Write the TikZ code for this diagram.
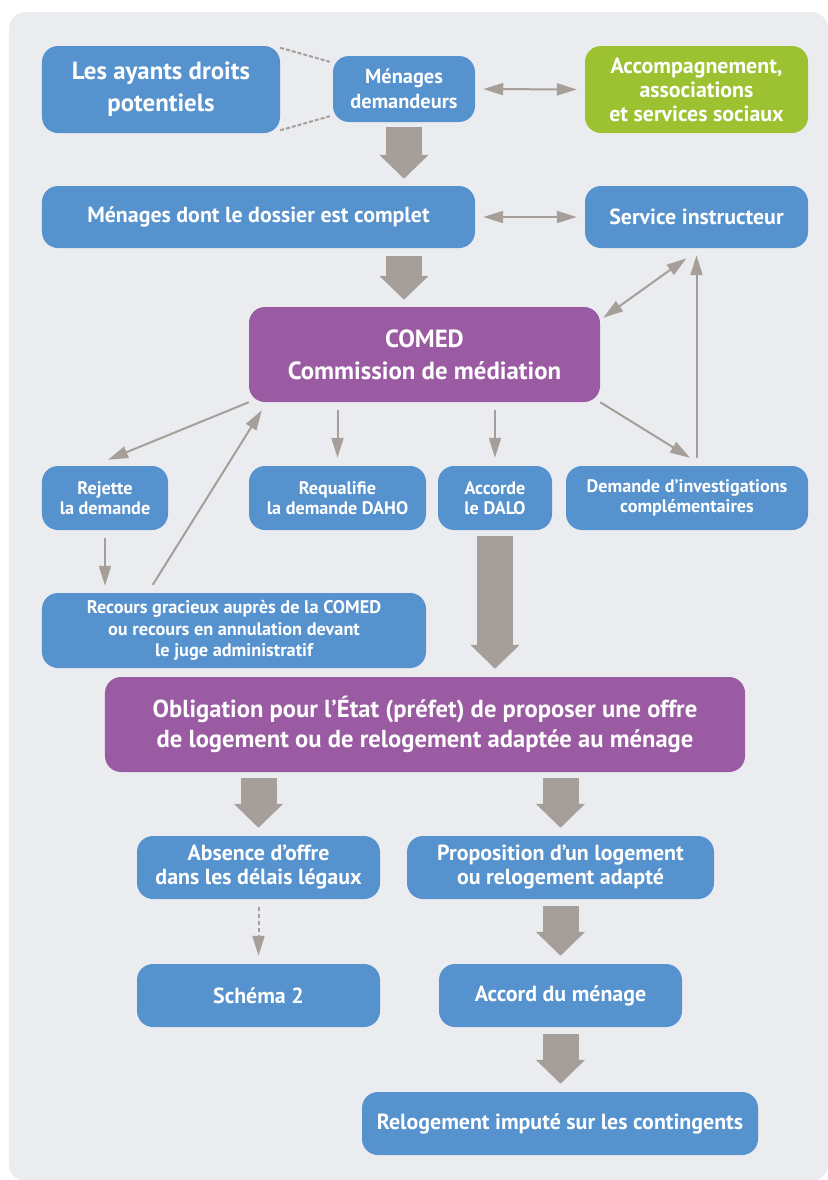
\documentclass[tikz,border=0pt]{standalone}
\usepackage{fontspec}
\setmainfont{PT Sans}
\usepackage{tikz}
\usetikzlibrary{arrows.meta,positioning,calc}

\definecolor{boxblue}{HTML}{5592CE}
\definecolor{boxpurple}{HTML}{9A5BA3}
\definecolor{boxgreen}{HTML}{9CC231}
\definecolor{arrowgray}{HTML}{A69E98}
\definecolor{bggray}{HTML}{EBECF0}

\newcommand{\txtxl}{\bfseries\fontsize{21.2}{27.5}\selectfont}
\newcommand{\txtl}{\bfseries\fontsize{21}{25.6}\selectfont}
\newcommand{\txtm}{\bfseries\fontsize{18.7}{20.5}\selectfont}
\newcommand{\txtsm}{\bfseries\fontsize{17.4}{21}\selectfont}
\newcommand{\txts}{\bfseries\fontsize{15.5}{17}\selectfont}
\newcommand{\txtr}{\bfseries\fontsize{15.6}{18.5}\selectfont}

\begin{document}
\begin{tikzpicture}[x=0.3mm, y=-0.3mm,
    box/.style={rounded corners=4.8mm, fill=boxblue, text=white, align=center, inner sep=0pt},
    bigbox/.style={box, fill=boxpurple},
    greenbox/.style={box, fill=boxgreen},
    link/.style={draw=arrowgray, line width=0.6mm, -{Triangle[length=6mm, width=3.6mm]}},
    twolink/.style={link, {Triangle[length=6mm, width=3.6mm]}-{Triangle[length=6mm, width=3.6mm]}},
    fat/.style={draw=arrowgray, line width=10.8mm, -{Triangle[length=7.2mm, width=14.4mm]}},
    dotline/.style={draw=arrowgray, line width=0.6mm, dash pattern=on 1.2mm off 0.6mm}
]
    \useasboundingbox (0,0) rectangle (828,1180);
    \fill[bggray, rounded corners=5mm] (9,12) rectangle (828,1181);

    % first rows
    \node[box, minimum width=71.4mm, minimum height=26.1mm, font=\txtxl] (ayants) at (161,89.5) {Les ayants droits\\potentiels};
    \node[box, minimum width=42.6mm, minimum height=19.8mm, font=\txtsm] (demandeurs) at (404,89) {Ménages\\demandeurs};
    \node[greenbox, minimum width=66.9mm, minimum height=26.1mm, font=\txtm] (accomp) at (696.5,89.5) {Accompagnement,\\associations\\et services sociaux};
    \node[box, minimum width=129.9mm, minimum height=18.6mm, font=\txtm] (complet) at (258.5,217) {Ménages dont le dossier est complet};
    \node[box, minimum width=66.9mm, minimum height=18.6mm, font=\txtm] (service) at (696.5,217) {Service instructeur};

    \node[bigbox, minimum width=105.3mm, minimum height=28.5mm, font=\txtxl] (comed) at (424.5,354.5) {COMED\\Commission de médiation};

    % decisions
    \node[box, minimum width=37.8mm, minimum height=19.2mm, font=\txts] (rejette) at (105,498) {Rejette\\la demande};
    \node[box, minimum width=53.1mm, minimum height=19.2mm, font=\txts] (requalifie) at (337.5,498) {Requalifie\\la demande DAHO};
    \node[box, minimum width=34.2mm, minimum height=19.2mm, font=\txts] (accorde) at (495,498) {Accorde\\le DALO};
    \node[box, minimum width=72.6mm, minimum height=19.2mm, font=\txts] (investig) at (687,498) {Demande d’investigations\\complémentaires};
    \node[box, minimum width=115.2mm, minimum height=22.5mm, font=\txtr] (recours) at (234,630.5) {Recours gracieux auprès de la COMED\\ou recours en annulation devant\\le juge administratif};

    \node[bigbox, minimum width=192mm, minimum height=28.5mm, font=\txtl] (obligation) at (425,724.5) {Obligation pour l’État (préfet) de proposer une offre\\de logement ou de relogement adaptée au ménage};

    % bottom
    \node[box, minimum width=72.9mm, minimum height=18.9mm, font=\txtm] (absence) at (258.5,867.5) {Absence d’offre\\dans les délais légaux};
    \node[box, minimum width=92.1mm, minimum height=18.9mm, font=\txtm] (proposition) at (560.5,867.5) {Proposition d’un logement\\ou relogement adapté};
    \node[box, minimum width=72.9mm, minimum height=18.9mm, font=\txtm] (schema) at (258.5,995.5) {Schéma 2};
    \node[box, minimum width=72.9mm, minimum height=18.9mm, font=\txtm] (accord) at (560.5,995.5) {Accord du ménage};
    \node[box, minimum width=118.8mm, minimum height=18.9mm, font=\txtm] (relogement) at (560,1123.5) {Relogement imputé sur les contingents};

    % dashed links
    \draw[dotline] ($(ayants.north east)+(0,2)$) -- ($(demandeurs.north west)+(-3,6)$);
    \draw[dotline] ($(ayants.south east)+(0,-3)$) -- ($(demandeurs.south west)+(-3,-6)$);

    % thin arrows
    \draw[twolink, shorten <=2.4mm, shorten >=2.4mm] (demandeurs.east) -- (accomp.west);
    \draw[twolink, shorten <=2.4mm, shorten >=2.4mm] (complet.east) -- (service.west);
    \draw[twolink] ($(comed.north east)+(3,11)$) -- ($(service.south)+(-10,10)$);
    \draw[link, shorten <=2.4mm, shorten >=2.1mm] (investig.north -| service.south) -- (service.south);
    \draw[link] (comed.south east) -- ($(investig.north)+(3,-8)$);
    \draw[link] (comed.south west) -- ($(rejette.north)+(3,-6)$);
    \draw[link, shorten <=2.4mm, shorten >=2.4mm] (comed.south -| requalifie.north) -- (requalifie.north);
    \draw[link, shorten <=2.4mm, shorten >=2.4mm] (comed.south -| accorde.north) -- (accorde.north);
    \draw[link, shorten <=2.4mm, shorten >=2.1mm] (rejette.south) -- (recours.north -| rejette.south);
    \draw[link] ($(recours.north west)+(111,-8)$) -- ($(comed.south west)+(13,8)$);
    \draw[link, dash pattern=on 1.2mm off 0.9mm, shorten <=2.4mm, shorten >=2.4mm] (absence.south) -- (schema.north);

    % big arrows
    \draw[fat, shorten <=1.5mm, shorten >=2.1mm] (demandeurs.south) -- (complet.north -| demandeurs.south);
    \draw[fat, shorten <=2.4mm, shorten >=2.1mm] (complet.south -| demandeurs.south) -- (comed.north -| demandeurs.south);
    \draw[fat, shorten <=1.8mm, shorten >=2.4mm] (accorde.south) -- (obligation.north -| accorde.south);
    \draw[fat, shorten <=1.8mm, shorten >=2.4mm] (obligation.south -| absence.north) -- (absence.north);
    \draw[fat, shorten <=1.8mm, shorten >=2.4mm] (obligation.south -| proposition.north) -- (proposition.north);
    \draw[fat, shorten <=2.1mm, shorten >=2.4mm] (proposition.south) -- (accord.north);
    \draw[fat, shorten <=2.1mm, shorten >=2.4mm] (accord.south) -- (relogement.north -| accord.south);
\end{tikzpicture}
\end{document}
